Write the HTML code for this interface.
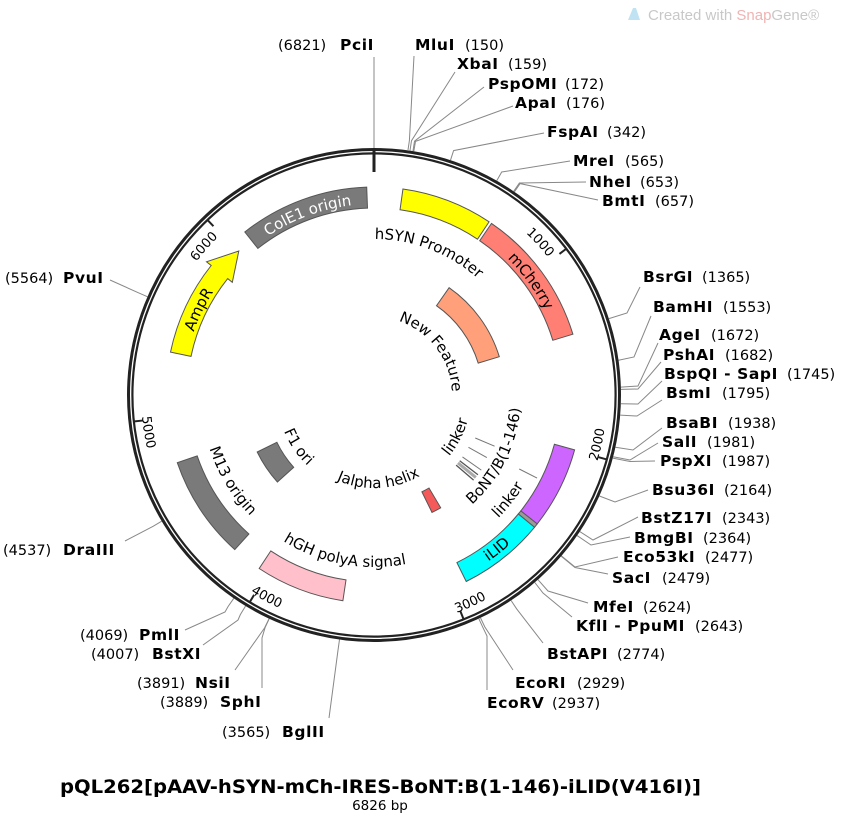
<!DOCTYPE html>
<html><head><meta charset="utf-8"><style>
html,body{margin:0;padding:0;background:#fff;}
svg{display:block;font-family:"DejaVu Sans","Liberation Sans",sans-serif;}
.n{font-weight:bold;font-size:15.5px;letter-spacing:0.6px;fill:#000}
.p{font-size:14.5px;fill:#000}
.f{font-size:15px;fill:#000}
.t{font-size:13px;fill:#000}
.c{fill:none;stroke:#888;stroke-width:1}
.fe{stroke:#555;stroke-width:1}
</style></head><body>
<svg width="848" height="818" viewBox="0 0 848 818" xmlns="http://www.w3.org/2000/svg">
<defs>
<path id="cw191" d="M374,586 A191,191 0 1 1 374,204 A191,191 0 1 1 374,586"/>
<path id="cw156" d="M374,551 A156,156 0 1 1 374,239 A156,156 0 1 1 374,551"/>
<path id="cw78" d="M374,473 A78,78 0 1 1 374,317 A78,78 0 1 1 374,473"/>
<path id="cw222" d="M374,617 A222,222 0 1 1 374,173 A222,222 0 1 1 374,617"/>
<path id="ccw202" d="M374,193 A202,202 0 1 0 374,597 A202,202 0 1 0 374,193"/>
<path id="ccw173" d="M374,222 A173,173 0 1 0 374,568 A173,173 0 1 0 374,222"/>
<path id="ccw172" d="M374,223 A172,172 0 1 0 374,567 A172,172 0 1 0 374,223"/>
<path id="ccw175" d="M374,220 A175,175 0 1 0 374,570 A175,175 0 1 0 374,220"/>
<path id="ccw147" d="M374,248 A147,147 0 1 0 374,542 A147,147 0 1 0 374,248"/>
<path id="ccw97" d="M374,298 A97,97 0 1 0 374,492 A97,97 0 1 0 374,298"/>
<path id="ccw93" d="M374,302 A93,93 0 1 0 374,488 A93,93 0 1 0 374,302"/>
<path id="ccw233" d="M374,162 A233,233 0 1 0 374,628 A233,233 0 1 0 374,162"/>
</defs>

<path d="M628,20 L633,8 L636,8 L640,20 Z" fill="#bfe3f3"/>
<text x="648" y="20" font-size="15" fill="#c8c8c8" font-family="Liberation Sans, sans-serif">Created with <tspan fill="#efb3b3">Snap</tspan>Gene®</text>

<polyline class="c" points="374,148 374,57"/>
<polyline class="c" points="408,150 409.4,140.4 414,56"/>
<polyline class="c" points="410,150.6 411.5,140.7 455,72"/>
<polyline class="c" points="413,151 414.5,141.2 484,87"/>
<polyline class="c" points="413.8,151.2 415.5,141.4 513,106"/>
<polyline class="c" points="450.5,160.2 453.6,150.6 544,133"/>
<polyline class="c" points="496.8,180.6 501.7,172 570,161"/>
<polyline class="c" points="513.7,191.3 519.4,183 586,182"/>
<polyline class="c" points="514.4,191.8 520.1,183.6 598,200"/>
<polyline class="c" points="608.9,318.6 627,313 640,287"/>
<polyline class="c" points="618.5,360.2 634,357 651,316"/>
<polyline class="c" points="620.9,387.1 638,386 658,343"/>
<polyline class="c" points="620.9,389.4 638,389 661,362"/>
<polyline class="c" points="620.9,403.7 638,404 662,381"/>
<polyline class="c" points="620.2,415.1 637,416 662,400"/>
<polyline class="c" points="615.4,447.2 633,450 662,428"/>
<polyline class="c" points="613.1,456.8 630,460 658,443"/>
<polyline class="c" points="612.8,458.1 630,461.5 655,461"/>
<polyline class="c" points="599.4,496 615,502 648,490"/>
<polyline class="c" points="579.8,531.6 593,540 638,517"/>
<polyline class="c" points="577.1,535.6 591,545 630,537"/>
<polyline class="c" points="561.4,555.9 575,567 618,557"/>
<polyline class="c" points="561.2,556.2 575,567.5 608,574"/>
<polyline class="c" points="538,579.7 548,591 588,603"/>
<polyline class="c" points="534.8,582.5 543,593 572,617"/>
<polyline class="c" points="511.1,600.5 516.6,608.8 543,643"/>
<polyline class="c" points="480.5,617.9 484.8,626.9 513,670"/>
<polyline class="c" points="478.8,618.7 483,627.7 487,636 487,690"/>
<polyline class="c" points="339.5,639.6 338.1,649.5 329,718"/>
<polyline class="c" points="269.2,618.7 265,627.8 262,638 262,688"/>
<polyline class="c" points="269,618.9 264.6,627.9 235,670"/>
<polyline class="c" points="245.6,606 240.4,614.5 238,620 203,645"/>
<polyline class="c" points="233.8,598.3 228.1,606.5 225,612 185,630"/>
<polyline class="c" points="161.7,521.2 153.1,526.3 125,541"/>
<polyline class="c" points="147.4,296.7 138.2,292.7 110,280"/>

<circle cx="374" cy="395" r="245.5" fill="none" stroke="#222" stroke-width="3"/>
<circle cx="374" cy="395" r="241.6" fill="none" stroke="#222" stroke-width="2.2"/>
<line x1="374" y1="150" x2="374" y2="172" stroke="#222" stroke-width="3"/>
<g stroke="#222" stroke-width="2">
<line x1="374" y1="153" x2="374" y2="162" transform="rotate(52.74 374 395)"/>
<line x1="374" y1="153" x2="374" y2="162" transform="rotate(105.48 374 395)"/>
<line x1="374" y1="153" x2="374" y2="162" transform="rotate(158.22 374 395)"/>
<line x1="374" y1="153" x2="374" y2="162" transform="rotate(210.96 374 395)"/>
<line x1="374" y1="153" x2="374" y2="162" transform="rotate(263.7 374 395)"/>
<line x1="374" y1="153" x2="374" y2="162" transform="rotate(316.44 374 395)"/>
</g>
<g class="t">
<g transform="rotate(51.7 374 395)"><text><textPath href="#cw222" startOffset="50%" text-anchor="end">1000</textPath></text></g>
<g transform="rotate(315.4 374 395)"><text><textPath href="#cw222" startOffset="50%" text-anchor="end">6000</textPath></text></g>
<g transform="rotate(-73.5 374 395)"><text><textPath href="#ccw233" startOffset="50%" text-anchor="start">2000</textPath></text></g>
<g transform="rotate(-20.8 374 395)"><text><textPath href="#ccw233" startOffset="50%" text-anchor="start">3000</textPath></text></g>
<g transform="rotate(32 374 395)"><text><textPath href="#ccw233" startOffset="50%" text-anchor="start">4000</textPath></text></g>
<g transform="rotate(84.7 374 395)"><text><textPath href="#ccw233" startOffset="50%" text-anchor="start">5000</textPath></text></g>
</g>

<path class="fe" fill="#ffff00" d="M402.95,189 A208,208 0 0 1 489.1,221.8 L477.5,239.2 A187,187 0 0 0 400.03,209.8 Z"/>
<path class="fe" fill="#ff7f74" d="M491.5,223.4 A208,208 0 0 1 572.9,334.2 L552.8,340.3 A187,187 0 0 0 479.7,240.7 Z"/>
<path class="fe" fill="#7a7a7a" d="M244.8,232 A208,208 0 0 1 366.7,187.1 L367.5,208.1 A187,187 0 0 0 257.9,248.4 Z"/>
<path class="fe" fill="#ffff00" d="M170.5,352.1 A208,208 0 0 1 211.2,265.5 L206.5,261.8 L238.8,251 L232.3,282.3 L227.7,278.6 A187,187 0 0 0 191,356.4 Z"/>
<path class="fe" fill="#cc66ff" d="M574.6,449.9 A208,208 0 0 1 537.2,523.9 L520.8,510.9 A187,187 0 0 0 554.4,444.3 Z"/>
<path class="fe" fill="#9a9a9a" d="M537.2,523.9 A208,208 0 0 1 534.5,527.3 L518.3,514 A187,187 0 0 0 520.8,510.9 Z"/>
<path class="fe" fill="#00ffff" d="M534.5,527.3 A208,208 0 0 1 466.2,581.5 L456.9,562.6 A187,187 0 0 0 518.3,514 Z"/>
<path class="fe" fill="#ffc0cb" d="M342.9,600.7 A208,208 0 0 1 259.2,568.5 L270.8,550.9 A187,187 0 0 0 346,579.9 Z"/>
<path class="fe" fill="#7a7a7a" d="M234.8,549.6 A208,208 0 0 1 177.3,462.7 L197.2,455.9 A187,187 0 0 0 248.9,534 Z"/>
<path class="fe" fill="#ffa07a" d="M449.1,287.7 A131,131 0 0 1 499.3,356.7 L478.2,363.1 A109,109 0 0 0 436.5,305.7 Z"/>
<path class="fe" fill="#7a7a7a" d="M277.4,482 A130,130 0 0 1 257.2,452 L276.9,442.3 A108,108 0 0 0 293.7,467.3 Z"/>
<path class="fe" fill="#f55a5a" d="M440.7,507.8 A131,131 0 0 1 432,512.4 L421.9,491.8 A108,108 0 0 0 429,488 Z"/>

<g stroke="#777" stroke-width="1">
<line x1="374" y1="285" x2="374" y2="264" transform="rotate(113 374 395)"/>
<line x1="374" y1="287" x2="374" y2="266" transform="rotate(119 374 395)"/>
<line x1="374" y1="287" x2="374" y2="264" transform="rotate(125 374 395)"/>
<line x1="374" y1="232" x2="374" y2="212" transform="rotate(117 374 395)"/>
<line x1="374" y1="287" x2="374" y2="264" transform="rotate(127.5 374 395)" stroke="#555" stroke-width="1.3"/>
<line x1="374" y1="287" x2="374" y2="264" transform="rotate(129 374 395)" stroke="#aaa" stroke-width="3"/>
<line x1="374" y1="287" x2="374" y2="264" transform="rotate(130.5 374 395)" stroke="#555" stroke-width="1.3"/>
</g>

<g class="f">
<g transform="rotate(339.8 374 395)"><text fill="#fff"><textPath href="#cw191" startOffset="50%" text-anchor="middle" fill="#fff">ColE1 origin</textPath></text></g>
<g transform="rotate(296 374 395)"><text><textPath href="#cw191" startOffset="50%" text-anchor="middle">AmpR</textPath></text></g>
<g transform="rotate(54 374 395)"><text><textPath href="#cw191" startOffset="50%" text-anchor="middle">mCherry</textPath></text></g>
<g transform="rotate(21 374 395)"><text><textPath href="#cw156" startOffset="50%" text-anchor="middle">hSYN Promoter</textPath></text></g>
<g transform="rotate(53 374 395)"><text><textPath href="#cw78" startOffset="50%" text-anchor="middle">New Feature</textPath></text></g>
<g transform="rotate(-38.5 374 395)"><text><textPath href="#ccw202" startOffset="50%" text-anchor="middle">iLID</textPath></text></g>
<g transform="rotate(58.8 374 395)"><text><textPath href="#ccw173" startOffset="50%" text-anchor="middle">M13 origin</textPath></text></g>
<g transform="rotate(10.5 374 395)"><text><textPath href="#ccw172" startOffset="50%" text-anchor="middle">hGH polyA signal</textPath></text></g>
<g transform="rotate(55.6 374 395)"><text><textPath href="#ccw97" startOffset="50%" text-anchor="middle">F1 ori</textPath></text></g>
<g transform="rotate(-3 374 395)"><text><textPath href="#ccw93" startOffset="50%" text-anchor="middle">Jalpha helix</textPath></text></g>
<g transform="rotate(-63 374 395)"><text><textPath href="#ccw97" startOffset="50%" text-anchor="middle">linker</textPath></text></g>
<g transform="rotate(-63.3 374 395)"><text><textPath href="#ccw147" startOffset="50%" text-anchor="middle">BoNT/B(1-146)</textPath></text></g>
<g transform="rotate(-52 374 395)"><text><textPath href="#ccw175" startOffset="50%" text-anchor="middle">linker</textPath></text></g>
</g>

<text class="p" x="278" y="50">(6821)</text><text class="n" x="340" y="50">PciI</text>
<text class="n" x="415" y="50">MluI</text><text class="p" x="465" y="50">(150)</text>
<text class="n" x="457" y="69">XbaI</text><text class="p" x="508" y="69">(159)</text>
<text class="n" x="488" y="89">PspOMI</text><text class="p" x="565" y="89">(172)</text>
<text class="n" x="515" y="108">ApaI</text><text class="p" x="566" y="108">(176)</text>
<text class="n" x="547" y="137">FspAI</text><text class="p" x="607" y="137">(342)</text>
<text class="n" x="573" y="166">MreI</text><text class="p" x="625" y="166">(565)</text>
<text class="n" x="589" y="187">NheI</text><text class="p" x="640" y="187">(653)</text>
<text class="n" x="602" y="206">BmtI</text><text class="p" x="655" y="206">(657)</text>

<text class="n" x="643" y="282">BsrGI</text><text class="p" x="702" y="282">(1365)</text>
<text class="n" x="653" y="312">BamHI</text><text class="p" x="723" y="312">(1553)</text>
<text class="n" x="659" y="340">AgeI</text><text class="p" x="711" y="340">(1672)</text>
<text class="n" x="663" y="360">PshAI</text><text class="p" x="725" y="360">(1682)</text>
<text class="n" x="664" y="379">BspQI - SapI</text><text class="p" x="787" y="379">(1745)</text>
<text class="n" x="666" y="398">BsmI</text><text class="p" x="722" y="398">(1795)</text>
<text class="n" x="666" y="428">BsaBI</text><text class="p" x="728" y="428">(1938)</text>
<text class="n" x="662" y="447">SalI</text><text class="p" x="707" y="447">(1981)</text>
<text class="n" x="660" y="466">PspXI</text><text class="p" x="722" y="466">(1987)</text>
<text class="n" x="652" y="495">Bsu36I</text><text class="p" x="724" y="495">(2164)</text>
<text class="n" x="641" y="523">BstZ17I</text><text class="p" x="722" y="523">(2343)</text>
<text class="n" x="634" y="543">BmgBI</text><text class="p" x="703" y="543">(2364)</text>
<text class="n" x="623" y="562">Eco53kI</text><text class="p" x="705" y="562">(2477)</text>
<text class="n" x="612" y="583">SacI</text><text class="p" x="662" y="583">(2479)</text>
<text class="n" x="593" y="612">MfeI</text><text class="p" x="643" y="612">(2624)</text>
<text class="n" x="576" y="631">KflI - PpuMI</text><text class="p" x="695" y="631">(2643)</text>
<text class="n" x="547" y="659">BstAPI</text><text class="p" x="617" y="659">(2774)</text>
<text class="n" x="515" y="688">EcoRI</text><text class="p" x="577" y="688">(2929)</text>
<text class="n" x="487" y="708">EcoRV</text><text class="p" x="552" y="708">(2937)</text>

<text class="p" x="5" y="283">(5564)</text><text class="n" x="63" y="283">PvuI</text>
<text class="p" x="3" y="555">(4537)</text><text class="n" x="63" y="555">DraIII</text>
<text class="p" x="80" y="640">(4069)</text><text class="n" x="139" y="640">PmlI</text>
<text class="p" x="91" y="659">(4007)</text><text class="n" x="152" y="659">BstXI</text>
<text class="p" x="137" y="688">(3891)</text><text class="n" x="195" y="688">NsiI</text>
<text class="p" x="160" y="707">(3889)</text><text class="n" x="220" y="707">SphI</text>
<text class="p" x="222" y="737">(3565)</text><text class="n" x="282" y="737">BglII</text>

<text x="60" y="793" font-size="19" font-weight="bold" textLength="641" lengthAdjust="spacingAndGlyphs" fill="#000">pQL262[pAAV-hSYN-mCh-IRES-BoNT:B(1-146)-iLID(V416I)]</text>
<text x="380" y="810" font-size="13.5" text-anchor="middle" fill="#000">6826 bp</text>
</svg>
</body></html>
